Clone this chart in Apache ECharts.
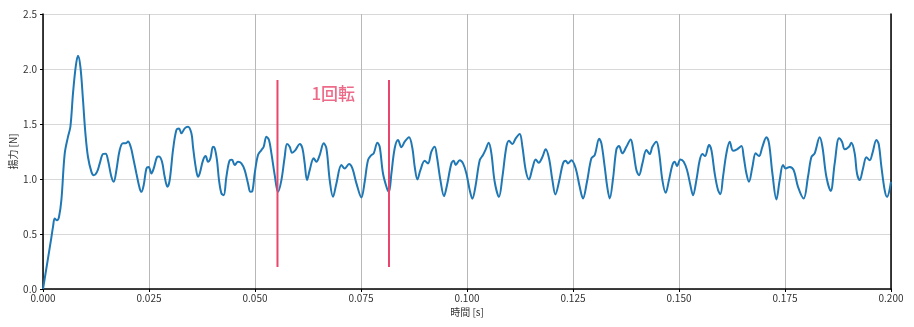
<!DOCTYPE html>
<html>
<head>
<meta charset="utf-8">
<script src="https://cdn.jsdelivr.net/npm/echarts@6/dist/echarts.min.js"></script>
<style>html,body{margin:0;padding:0;background:#fff}#c{width:914px;height:327px}</style>
</head>
<body>
<div id="c"></div>
<script>
// time in milliseconds (converted to seconds below)
const timeMs = [0.00,1.98,2.36,2.76,3.30,3.77,4.34,5.12,5.90,6.46,7.08,7.71,8.25,8.82,9.43,10.00,10.61,11.42,11.96,12.74,13.37,14.15,14.79,15.33,16.13,16.67,17.31,18.09,18.87,19.50,20.05,20.68,21.23,22.03,22.81,23.21,23.75,24.39,24.93,25.57,26.11,26.89,27.36,28.07,28.70,29.34,29.88,30.66,31.46,32.08,32.64,33.42,34.20,35.00,35.38,36.01,36.56,36.96,37.74,38.37,38.92,39.48,40.09,40.50,41.04,41.51,42.08,42.62,43.25,44.03,44.58,45.21,45.99,46.79,47.57,48.35,48.92,49.39,49.93,50.71,51.51,52.05,52.69,53.30,53.87,54.65,55.42,56.23,57.00,57.55,58.18,58.73,59.53,60.54,61.18,61.72,62.26,62.90,63.84,64.48,65.26,66.20,66.84,67.62,68.40,69.20,70.38,71.16,72.17,72.97,73.92,75.09,75.87,76.65,77.45,78.00,78.87,79.41,80.19,81.13,81.60,82.17,82.95,83.73,84.53,85.31,86.32,87.12,87.67,88.30,89.01,90.02,90.80,91.60,92.38,92.92,93.73,94.58,95.28,96.32,96.86,97.33,98.28,99.06,99.86,100.64,101.27,101.98,103.00,103.77,104.34,105.12,105.75,106.53,107.55,108.35,109.29,109.91,110.71,111.49,112.43,113.07,113.84,114.62,115.42,116.20,116.91,117.78,118.56,119.34,120.14,120.85,121.70,122.64,123.28,123.82,124.62,125.64,126.58,127.36,128.30,129.34,130.12,131.18,131.70,132.48,133.07,133.66,134.43,135.24,135.85,136.65,137.59,138.61,139.15,139.95,140.57,141.37,142.31,143.09,143.73,144.67,145.28,146.08,146.86,147.64,148.44,148.99,149.53,150.33,151.11,151.89,152.69,153.30,154.10,154.88,155.52,156.13,157.08,157.64,158.42,159.20,159.76,160.38,161.18,161.96,162.74,163.68,164.72,165.26,165.90,166.51,167.31,168.09,168.87,169.67,170.61,171.23,172.03,172.97,173.75,174.53,175.17,176.11,177.05,178.07,179.41,180.42,181.23,182.00,183.18,183.82,184.76,185.78,186.72,187.74,188.44,189.08,190.09,190.66,191.44,191.98,192.62,193.40,194.20,194.98,195.61,196.56,197.10,197.74,198.51,199.06,200.00];
const lift = [0,0.47,0.565,0.64,0.625,0.655,0.81,1.23,1.385,1.475,1.78,2.02,2.12,2.02,1.72,1.415,1.20,1.065,1.035,1.065,1.14,1.227,1.23,1.17,1.02,0.975,1.08,1.263,1.324,1.324,1.34,1.293,1.20,1.05,0.914,0.883,0.944,1.096,1.11,1.05,1.096,1.20,1.205,1.157,1.02,0.929,0.99,1.263,1.445,1.46,1.415,1.46,1.475,1.415,1.293,1.11,1.02,1.05,1.17,1.208,1.157,1.188,1.293,1.28,1.17,0.99,0.869,0.853,1.02,1.17,1.175,1.127,1.157,1.142,1.081,0.96,0.883,0.89,1.05,1.218,1.263,1.293,1.385,1.354,1.233,1.035,0.883,0.99,1.20,1.318,1.293,1.239,1.263,1.318,1.279,1.142,0.99,1.081,1.188,1.157,1.218,1.324,1.279,0.99,0.838,0.96,1.127,1.096,1.136,1.096,0.96,0.832,0.975,1.17,1.218,1.233,1.33,1.293,1.05,0.914,0.883,1.05,1.279,1.354,1.288,1.339,1.379,1.279,1.11,0.996,1.081,1.166,1.142,1.248,1.293,1.20,0.99,0.844,0.944,1.142,1.166,1.127,1.17,1.142,1.05,0.899,0.82,0.929,1.17,1.218,1.263,1.33,1.233,0.975,0.838,1.02,1.293,1.348,1.318,1.37,1.409,1.293,1.081,0.996,1.096,1.178,1.148,1.20,1.27,1.188,0.99,0.86,0.975,1.142,1.166,1.142,1.17,1.096,0.929,0.823,0.975,1.188,1.218,1.365,1.324,1.11,0.93,0.823,1.0,1.27,1.30,1.233,1.293,1.36,1.279,1.081,1.035,1.142,1.263,1.227,1.293,1.339,1.248,0.99,0.874,0.99,1.127,1.157,1.117,1.178,1.157,1.081,0.944,0.853,0.99,1.17,1.227,1.208,1.309,1.263,1.05,0.899,0.862,1.02,1.233,1.339,1.257,1.27,1.30,1.20,1.05,0.975,1.11,1.233,1.208,1.293,1.379,1.324,1.05,0.814,0.99,1.127,1.096,1.11,1.081,0.929,0.823,1.02,1.20,1.233,1.379,1.293,1.02,0.892,1.142,1.37,1.339,1.27,1.293,1.33,1.233,1.05,0.99,1.096,1.197,1.17,1.233,1.354,1.318,1.11,0.899,0.838,0.975];
// one-rotation markers
const rotationTimes = [0.0553, 0.0816];
const rotationRange = [0.2, 1.9];
const noteText = '1回転';
const notePos = [0.0633, 1.78];
const xTicks = {min: 0, max: 0.2, interval: 0.025};
const yTicks = {min: 0, max: 2.5, interval: 0.5};

const series0 = timeMs.map((t, i) => [t / 1000, lift[i]]);
const red = '#e8466c';
const font = '"Noto Sans CJK JP", "Noto Sans", sans-serif';

const chart = echarts.init(document.getElementById('c'), null, {renderer: 'canvas'});
chart.setOption({
  animation: false,
  backgroundColor: '#fff',
  grid: {left: 43, right: 23, top: 14, bottom: 38, containLabel: false, outerBoundsMode: 'none'},
  xAxis: {
    type: 'value', min: xTicks.min, max: xTicks.max, interval: xTicks.interval,
    name: '時間 [s]', nameLocation: 'middle', nameGap: 18, nameMoveOverlap: false,
    nameTextStyle: {color: '#333', fontSize: 10, fontFamily: font},
    axisLine: {show: true, onZero: false, lineStyle: {color: '#000', width: 1.5}},
    axisTick: {show: true, length: 3, lineStyle: {color: '#000'}},
    axisLabel: {color: '#333', fontSize: 10, fontFamily: font, margin: 4, formatter: v => v.toFixed(3)},
    splitLine: {show: true, lineStyle: {color: '#b8b8b8', width: 1}}
  },
  yAxis: [{
    type: 'value', min: yTicks.min, max: yTicks.max, interval: yTicks.interval,
    name: '揚力 [N]', nameLocation: 'middle', nameGap: 25, nameRotate: 90, nameMoveOverlap: false,
    nameTextStyle: {color: '#333', fontSize: 10, fontFamily: font},
    axisLine: {show: true, lineStyle: {color: '#000', width: 1.5}},
    axisTick: {show: true, length: 3, lineStyle: {color: '#000'}},
    axisLabel: {color: '#333', fontSize: 10, fontFamily: font, margin: 6, formatter: v => v.toFixed(1)},
    splitLine: {show: true, lineStyle: {color: '#d8d8d8', width: 1.2}}
  }, {
    type: 'value', position: 'right', min: yTicks.min, max: yTicks.max, interval: yTicks.interval,
    axisLine: {show: true, lineStyle: {color: '#000', width: 1.5}},
    axisTick: {show: false}, axisLabel: {show: false}, splitLine: {show: false}
  }],
  series: [
    {
      type: 'line', data: series0, showSymbol: false, smooth: 0.35,
      lineStyle: {color: '#1f77b4', width: 2}, z: 3
    },
    ...rotationTimes.map(t => ({
      type: 'line', data: [[t, rotationRange[0]], [t, rotationRange[1]]], showSymbol: false,
      lineStyle: {color: red, width: 2}, z: 4
    })),
    {
      type: 'scatter', data: [notePos], symbolSize: 0, z: 5,
      label: {show: true, position: 'right', distance: 0, formatter: noteText, color: red, fontSize: 17, fontWeight: 500, fontFamily: font}
    }
  ]
});
</script>
</body>
</html>
